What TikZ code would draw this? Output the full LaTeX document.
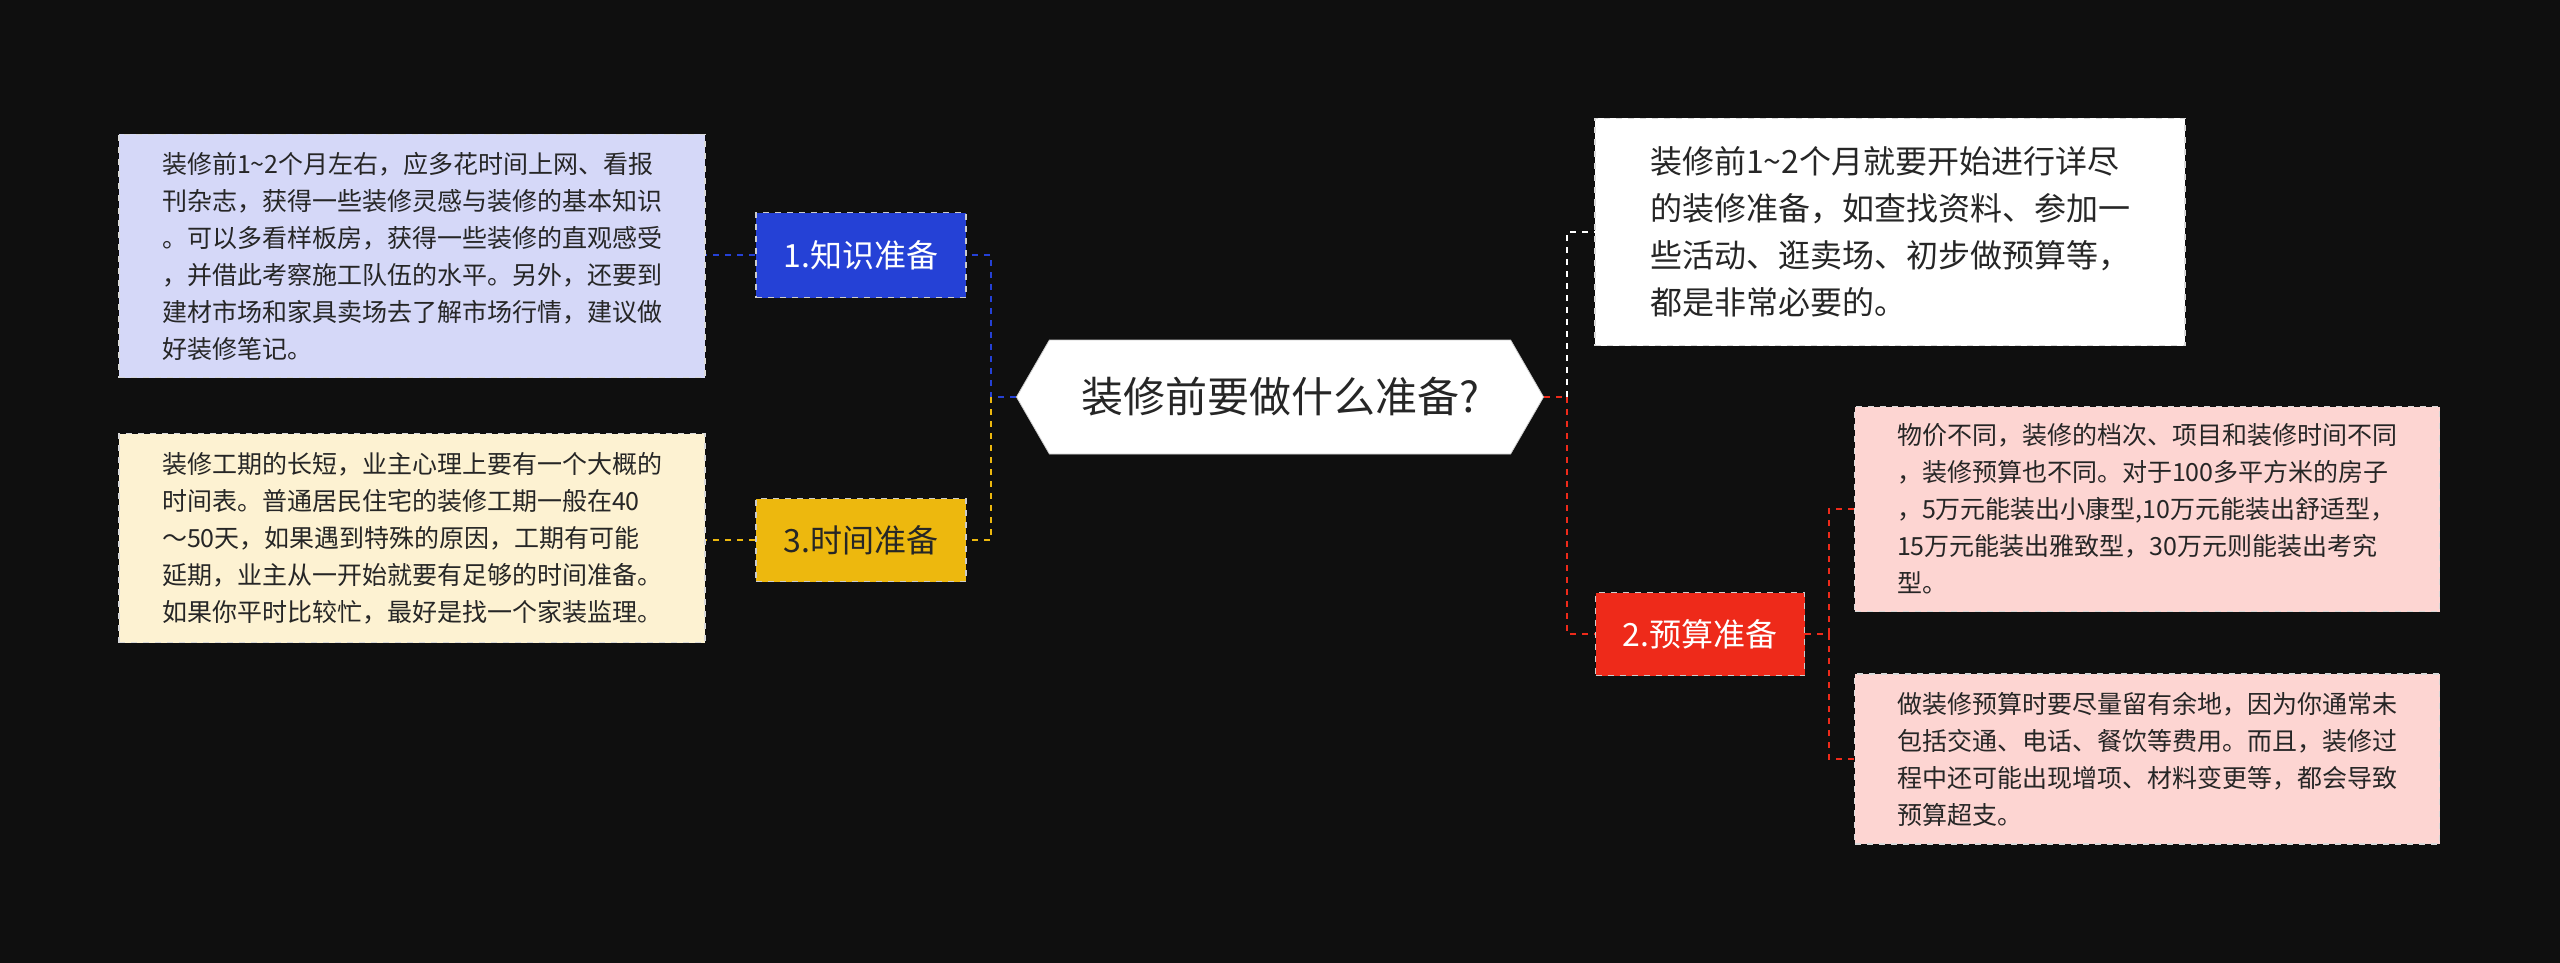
\documentclass[tikz,border=0pt]{standalone}
\usepackage{fontspec}
\setmainfont{Noto Sans CJK SC}
\usetikzlibrary{shapes.symbols}
\definecolor{bg}{HTML}{0F0F0F}
\definecolor{cblue}{HTML}{2541D6}
\definecolor{cyel}{HTML}{EDB80E}
\definecolor{cred}{HTML}{EE2A1A}
\definecolor{fblue}{HTML}{D5D8F8}
\definecolor{fyel}{HTML}{FDF2D2}
\definecolor{fpink}{HTML}{FDD5D2}
\tikzset{
 leaf/.style={draw=white!85!black, dashed, line width=0.8pt, align=left, inner sep=0pt, anchor=center, text=black!85, font=\fontsize{12.5}{18.5}\selectfont},
 cat/.style={draw=white!80!black, dashed, line width=0.8pt, inner sep=0pt, text=white, font=\fontsize{16}{20}\selectfont},
 link/.style={dashed, line width=1.2pt}
}
\begin{document}
\begin{tikzpicture}[x=0.5pt,y=-0.5pt]
\fill[bg] (0,0) rectangle (2560,963);
\useasboundingbox (0,0) rectangle (2560,963);
% central
\node[draw=white!80!black, fill=white, signal, signal to=west and east, signal pointer angle=120, minimum width=263.5pt, minimum height=57pt, inner sep=0pt, font=\fontsize{21}{24}\selectfont, text=black!85] (c) at (1280,397) {装修前要做什么准备?};
% categories
\node[cat, fill=cblue, minimum width=105pt, minimum height=42.5pt] (k) at (861,255) {1.知识准备};
\node[cat, fill=cyel, text=black!85, minimum width=105pt, minimum height=41.5pt] (t) at (861,540) {3.时间准备};
\node[cat, fill=cred, minimum width=104.5pt, minimum height=41.5pt] (b) at (1700,634) {2.预算准备};
% leaves
\node[leaf, fill=fblue, minimum width=293pt, minimum height=121.5pt] (k1) at (412,256) {装修前1\textasciitilde 2个月左右，应多花时间上网、看报\\刊杂志，获得一些装修灵感与装修的基本知识\\。可以多看样板房，获得一些装修的直观感受\\，并借此考察施工队伍的水平。另外，还要到\\建材市场和家具卖场去了解市场行情，建议做\\好装修笔记。};
\node[leaf, fill=fyel, minimum width=293pt, minimum height=104.5pt] (t1) at (412,538) {装修工期的长短，业主心理上要有一个大概的\\时间表。普通居民住宅的装修工期一般在40\\～50天，如果遇到特殊的原因，工期有可能\\延期，业主从一开始就要有足够的时间准备。\\如果你平时比较忙，最好是找一个家装监理。};
\node[leaf, fill=white, minimum width=295pt, minimum height=113.5pt, font=\fontsize{16}{23.5}\selectfont] (w) at (1890,232) {装修前1\textasciitilde 2个月就要开始进行详尽\\的装修准备，如查找资料、参加一\\些活动、逛卖场、初步做预算等，\\都是非常必要的。};
\node[leaf, fill=fpink, minimum width=292.5pt, minimum height=102.5pt] (p1) at (2147,509) {物价不同，装修的档次、项目和装修时间不同\\，装修预算也不同。对于100多平方米的房子\\，5万元能装出小康型,10万元能装出舒适型，\\15万元能装出雅致型，30万元则能装出考究\\型。};
\node[leaf, fill=fpink, minimum width=292.5pt, minimum height=85pt] (p2) at (2147,759) {做装修预算时要尽量留有余地，因为你通常未\\包括交通、电话、餐饮等费用。而且，装修过\\程中还可能出现增项、材料变更等，都会导致\\预算超支。};
% connectors
\coordinate (lj) at (991,397);
\coordinate (rj) at (1567,397);
\coordinate (bj) at (1829,634);
\draw[link, cblue] (c.west) -- (lj) -- (lj |- k.east) -- (k.east);
\draw[link, cyel] (lj) -- (lj |- t.east) -- (t.east);
\draw[link, cblue] (k.west) -- (k1.east |- k.west);
\draw[link, cyel] (t.west) -- (t1.east |- t.west);
\draw[link, cred] (c.east) -- (rj);
\draw[link, white] (rj) -- (rj |- w.west) -- (w.west);
\draw[link, cred] (rj) -- (rj |- b.west) -- (b.west);
\draw[link, cred] (b.east) -- (bj) -- (bj |- p1.west) -- (p1.west);
\draw[link, cred] (bj) -- (bj |- p2.west) -- (p2.west);
\end{tikzpicture}
\end{document}
